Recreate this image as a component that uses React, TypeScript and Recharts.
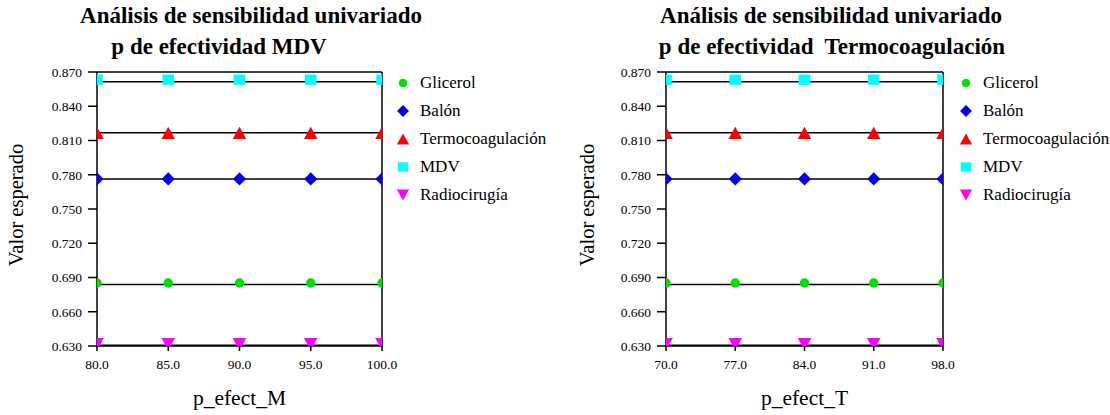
import React from 'react';
import { LineChart, Line, XAxis, YAxis, ReferenceLine, Legend, Label } from 'recharts';

const FONT = "'Liberation Serif', 'Times New Roman', 'DejaVu Serif', serif";

// ---- data ----
const seriesNames = ['Glicerol', 'Balón', 'Termocoagulación', 'MDV', 'Radiocirugía'];
const xValuesM = [80, 85, 90, 95, 100];
const xValuesT = [70, 77, 84, 91, 98];
const yTicks = [0.63, 0.66, 0.69, 0.72, 0.75, 0.78, 0.81, 0.84, 0.87];

const glicerolM = [0.6839, 0.6839, 0.6839, 0.6839, 0.6839];
const balonM = [0.7763, 0.7763, 0.7763, 0.7763, 0.7763];
const termoM = [0.8167, 0.8167, 0.8167, 0.8167, 0.8167];
const mdvM = [0.8615, 0.8615, 0.8615, 0.8615, 0.8615];
const radioM = [0.6307, 0.6307, 0.6307, 0.6307, 0.6307];

const glicerolT = [0.6839, 0.6839, 0.6839, 0.6839, 0.6839];
const balonT = [0.7763, 0.7763, 0.7763, 0.7763, 0.7763];
const termoT = [0.8167, 0.8167, 0.8167, 0.8167, 0.8167];
const mdvT = [0.8615, 0.8615, 0.8615, 0.8615, 0.8615];
const radioT = [0.6307, 0.6307, 0.6307, 0.6307, 0.6307];

const rowsM = xValuesM.map((x, i) => ({
  x,
  [seriesNames[0]]: glicerolM[i],
  [seriesNames[1]]: balonM[i],
  [seriesNames[2]]: termoM[i],
  [seriesNames[3]]: mdvM[i],
  [seriesNames[4]]: radioM[i],
}));
const rowsT = xValuesT.map((x, i) => ({
  x,
  [seriesNames[0]]: glicerolT[i],
  [seriesNames[1]]: balonT[i],
  [seriesNames[2]]: termoT[i],
  [seriesNames[3]]: mdvT[i],
  [seriesNames[4]]: radioT[i],
}));

// ---- styles ----
type Shape = 'circle' | 'diamond' | 'triangleUp' | 'square' | 'triangleDown';
const seriesStyle: Record<string, { color: string; shape: Shape; dy: number }> = {
  'Glicerol': { color: '#00dd00', shape: 'circle', dy: -1.5 },
  'Balón': { color: '#0000ee', shape: 'diamond', dy: 0 },
  'Termocoagulación': { color: '#ff0000', shape: 'triangleUp', dy: 0 },
  'MDV': { color: '#00ffff', shape: 'square', dy: -2 },
  'Radiocirugía': { color: '#ff00ff', shape: 'triangleDown', dy: -1 },
};

function Marker({ shape, cx, cy, color, s = 1 }: { shape: Shape; cx: number; cy: number; color: string; s?: number }) {
  if (cx == null || cy == null || isNaN(cx) || isNaN(cy)) return null;
  switch (shape) {
    case 'circle':
      return <circle cx={cx} cy={cy} r={4.7 * s} fill={color} />;
    case 'diamond': {
      const d = 6.6 * s;
      return <polygon points={`${cx},${cy - d} ${cx + d},${cy} ${cx},${cy + d} ${cx - d},${cy}`} fill={color} />;
    }
    case 'triangleUp': {
      const w = 6.8 * s, h = 6.2 * s;
      return <polygon points={`${cx},${cy - h} ${cx + w},${cy + h} ${cx - w},${cy + h}`} fill={color} />;
    }
    case 'triangleDown': {
      const w = 6.8 * s, h = 6.2 * s;
      return <polygon points={`${cx - w},${cy - h} ${cx + w},${cy - h} ${cx},${cy + h}`} fill={color} />;
    }
    case 'square':
      return <rect x={cx - 5.8 * s} y={cy - 5.2 * s} width={11.6 * s} height={10.4 * s} fill={color} />;
  }
  return null;
}

const renderLegend = (props: any) => {
  const payload = [...(props.payload || [])].sort(
    (a: any, b: any) => seriesNames.indexOf(a.value) - seriesNames.indexOf(b.value)
  );
  return (
    <div style={{ fontFamily: FONT, fontSize: 17, color: '#000' }}>
      {payload.map((entry: any) => {
        const st = seriesStyle[entry.value];
        return (
          <div key={entry.value} style={{ height: 28, display: 'flex', alignItems: 'center' }}>
            <svg width={16} height={16} style={{ display: 'block' }}>
              <Marker shape={st.shape} cx={8} cy={8} color={st.color} s={0.9} />
            </svg>
            <span style={{ marginLeft: 9, whiteSpace: 'nowrap' }}>{entry.value}</span>
          </div>
        );
      })}
    </div>
  );
};

type PanelProps = {
  rows: any[];
  xValues: number[];
  xLabel: string;
  width: number;
  yAxisWidth: number;
  marginRight: number;
  legendLeft: number;
  yLabelX: number;
  title1: { text: string; cx: number };
  title2: { text: string; cx: number };
};

function Panel(p: PanelProps) {
  const xMin = p.xValues[0];
  const xMax = p.xValues[p.xValues.length - 1];
  return (
    <div style={{ position: 'relative', width: p.width, height: 415, fontFamily: FONT }}>
      <LineChart
        width={p.width}
        height={415}
        data={p.rows}
        margin={{ top: 72, right: p.marginRight, bottom: 29, left: 0 }}
        style={{ fontFamily: FONT }}
      >
        <XAxis
          dataKey="x"
          type="number"
          domain={[xMin, xMax]}
          ticks={p.xValues}
          tickFormatter={(v: number) => v.toFixed(1)}
          height={40}
          tickSize={5}
          tickMargin={8}
          axisLine={{ stroke: '#000', strokeWidth: 1.5 }}
          tickLine={{ stroke: '#000', strokeWidth: 1.5 }}
          tick={{ fill: '#000', fontSize: 13.5, fontFamily: FONT }}
          allowDataOverflow
        >
          <Label
            content={(lp: any) => {
              const vb = lp.viewBox || {};
              return (
                <text x={vb.x + vb.width / 2} y={vb.y + 59} textAnchor="middle" style={{ fontFamily: FONT }} fontSize={21.5} fill="#000">
                  {p.xLabel}
                </text>
              );
            }}
          />
        </XAxis>
        <YAxis
          type="number"
          domain={[0.63, 0.87]}
          ticks={yTicks}
          tickFormatter={(v: number) => v.toFixed(3)}
          width={p.yAxisWidth}
          tickSize={9}
          tickMargin={6}
          axisLine={{ stroke: '#000', strokeWidth: 1.5 }}
          tickLine={{ stroke: '#000', strokeWidth: 1.5 }}
          tick={{ fill: '#000', fontSize: 13.5, fontFamily: FONT }}
          allowDataOverflow
        >
          <Label
            content={(lp: any) => {
              const vb = lp.viewBox || {};
              const cy = vb.y + vb.height / 2 - 4;
              return (
                <text
                  x={p.yLabelX}
                  y={cy}
                  transform={`rotate(-90, ${p.yLabelX}, ${cy})`}
                  textAnchor="middle"
                  style={{ fontFamily: FONT }}
                  fontSize={20.5}
                  fill="#000"
                >
                  Valor esperado
                </text>
              );
            }}
          />
        </YAxis>
        <ReferenceLine y={0.87} stroke="#000" strokeWidth={1.5} />
        <ReferenceLine x={xMax} stroke="#000" strokeWidth={1.5} />
        {seriesNames.map((name) => {
          const st = seriesStyle[name];
          return (
            <Line
              key={name}
              dataKey={name}
              name={name}
              type="linear"
              stroke="#000"
              strokeWidth={1.5}
              isAnimationActive={false}
              legendType="circle"
              activeDot={false}
              dot={(dp: any) => (
                <Marker key={`${name}-${dp.index}`} shape={st.shape} cx={dp.cx} cy={dp.cy + st.dy} color={st.color} />
              )}
            />
          );
        })}
        <Legend
          layout="vertical"
          align="center"
          verticalAlign="middle"
          content={renderLegend}
          wrapperStyle={{ left: p.legendLeft, top: 69, width: 170, height: 145 }}
        />
      </LineChart>
      <svg width={p.width} height={70} style={{ position: 'absolute', left: 0, top: 0, pointerEvents: 'none' }}>
        <text x={p.title1.cx} y={23} textAnchor="middle" style={{ fontFamily: FONT, fontWeight: 'bold' }} fontSize={23} fill="#000">
          {p.title1.text}
        </text>
        <text x={p.title2.cx} y={54} textAnchor="middle" style={{ fontFamily: FONT, fontWeight: 'bold', whiteSpace: 'pre' }} fontSize={23} fill="#000">
          {p.title2.text}
        </text>
      </svg>
    </div>
  );
}

export default function App() {
  return (
    <div style={{ position: 'absolute', left: 0, top: 0, width: 1110, height: 415, background: '#fff', display: 'flex', fontFamily: FONT }}>
      <Panel
        rows={rowsM}
        xValues={xValuesM}
        xLabel="p_efect_M"
        width={555}
        yAxisWidth={97}
        marginRight={173}
        legendLeft={395}
        yLabelX={23}
        title1={{ text: 'Análisis de sensibilidad univariado', cx: 251 }}
        title2={{ text: 'p de efectividad MDV', cx: 219 }}
      />
      <Panel
        rows={rowsT}
        xValues={xValuesT}
        xLabel="p_efect_T"
        width={555}
        yAxisWidth={111}
        marginRight={167}
        legendLeft={403}
        yLabelX={39}
        title1={{ text: 'Análisis de sensibilidad univariado', cx: 276 }}
        title2={{ text: 'p de efectividad\u00a0 Termocoagulación', cx: 277 }}
      />
    </div>
  );
}
